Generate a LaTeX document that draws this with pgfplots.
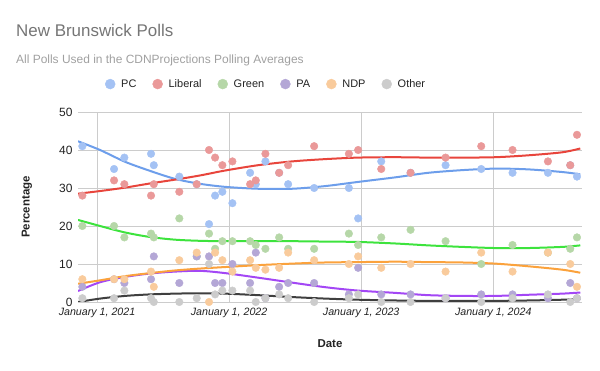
\documentclass[border=0pt]{standalone}
\usepackage{pgfplots}
\pgfplotsset{compat=1.18}
\usepackage{pgfplotstable}
\usepackage{fontspec}
\setmainfont{Liberation Sans}

\definecolor{pcdot}{HTML}{A4C2F4}
\definecolor{libdot}{HTML}{EA9999}
\definecolor{grndot}{HTML}{B6D7A8}
\definecolor{padot}{HTML}{B4A7D6}
\definecolor{ndpdot}{HTML}{F9CB9C}
\definecolor{othdot}{HTML}{CCCCCC}
\definecolor{pcline}{HTML}{6D9EEB}
\definecolor{libline}{HTML}{E8453C}
\definecolor{grnline}{HTML}{3DE33D}
\definecolor{paline}{HTML}{A347F5}
\definecolor{ndpline}{HTML}{FBA23C}
\definecolor{othline}{HTML}{3F3F3F}
\definecolor{gridc}{HTML}{CCCCCC}
\definecolor{basec}{HTML}{333333}
\definecolor{tickc}{HTML}{222222}
\definecolor{titlec}{HTML}{757575}
\definecolor{subc}{HTML}{A0A0A0}

\pgfplotstableread{
x pc lib grn pa ndp oth
2020.889 41 28 20 4 6 1
2021.129 35 32 20 6 6 1
2021.207 38 31 17 5 6 3
2021.409 39 28 18 6 8 1
2021.430 36 31 17 12 4 0
2021.623 33 29 22 5 11 0
2021.755 31 31 12 12 13 1
2021.848 20.5 40 18 12 0 10
2021.894 28 38 14 5 13 2
2021.949 29 36 16 5 11 3
2022.025 26 37 16 10 8 3
2022.159 34 31 16 5 11 3
2022.202 31 32 15 13 9 0
2022.275 37 39 14 1 8.5 1
2022.379 34 34 17 4 9 2
2022.447 31 36 14 5 13 1
2022.644 30 41 14 5 11 0
2022.907 30 39 18 2 10 1
2022.977 22 40 15 9 12 2
2023.152 37 35 17 2 9 0
2023.374 34 34 19 2 10 0
2023.639 36 38 16 1 8 1
2023.909 35 41 10 2 13 0
2024.146 34 40 15 2 8 1
2024.414 34 37 13 1 13 2
2024.583 36 36 14 5 10 0
2024.634 33 44 17 1 4 1
}\polls

\pgfplotstableread{
x pc lib grn pa ndp oth
2020.856 42.3 28.5 21.6 2.9 4.8 0.0
2021.023 40.0 29.2 20.0 5.2 5.7 0.9
2021.212 36.9 30.1 18.3 6.6 6.8 1.6
2021.402 34.5 31.2 17.1 7.5 7.6 2.0
2021.591 32.4 32.2 16.4 8.0 8.3 2.2
2021.780 31.1 33.3 16.1 8.2 8.8 2.3
2021.970 30.3 34.6 16.0 7.6 9.2 2.2
2022.220 29.8 36.0 16.0 6.4 9.7 1.8
2022.477 29.8 37.0 16.0 5.1 10.1 1.3
2022.727 30.5 37.6 15.9 3.9 10.4 0.9
2022.977 31.6 38.0 15.8 3.0 10.5 0.6
2023.258 32.8 38.1 15.4 2.4 10.6 0.4
2023.508 34.0 38.0 14.9 1.8 10.5 0.3
2023.765 34.7 38.0 14.5 1.6 10.4 0.3
2024.015 35.1 38.1 14.2 1.6 10.1 0.3
2024.265 34.9 38.6 14.2 1.9 9.4 0.4
2024.523 34.2 39.4 14.5 2.2 8.5 0.6
2024.659 33.6 40.4 14.9 2.5 7.7 0.8
}\trends

\pgfplotsset{
  dots/.style={only marks, mark=*, mark size=3.8bp, color=#1,
    legend image code/.code={\fill[#1] (0bp,0bp) circle (5bp);
      \path[draw=none, fill=none] (-5bp,-5bp) rectangle (11bp,5bp);}},
  trend/.style={no marks, smooth, line width=2bp, color=#1, forget plot},
}
\newcommand{\legsp}{\rule{16bp}{0pt}}

\begin{document}
\begin{tikzpicture}
\path[draw=none, fill=none] (0,0) rectangle (600bp,371bp);
\begin{axis}[
  at={(78bp,69bp)}, anchor=south west,
  scale only axis, width=504bp, height=190bp,
  xmin=2020.856, xmax=2024.672, ymin=0, ymax=50,
  xtick={2021,2022,2023,2024},
  xticklabels={{January 1, 2021},{January 1, 2022},{January 1, 2023},{January 1, 2024}},
  ytick={10,20,30,40,50},
  extra y ticks={0},
  extra y tick style={grid style={draw=basec, line width=1.2bp}},
  grid=major,
  major grid style={draw=gridc, line width=0.8bp},
  axis line style={draw=none},
  tick style={draw=none},
  x tick label style={font=\fontsize{10.7}{13}\selectfont\itshape, text=tickc, yshift=-3bp},
  y tick label style={font=\fontsize{12}{14}\selectfont, text=tickc, xshift=-2bp},
  /pgf/number format/assume math mode=true,
  legend columns=-1,
  legend cell align=left,
  legend style={at={(0.0536,1.147)}, anchor=west, draw=none, fill=none,
    inner sep=0pt, outer sep=0pt, column sep=0pt,
    nodes={inner sep=0pt, outer sep=0pt},
    font=\fontsize{11}{13}\selectfont, text=tickc},
]
\addplot[dots=pcdot] table[x=x,y=pc]{\polls};
\addlegendentry{PC\legsp}
\addplot[dots=libdot] table[x=x,y=lib]{\polls};
\addlegendentry{Liberal\legsp}
\addplot[dots=grndot] table[x=x,y=grn]{\polls};
\addlegendentry{Green\legsp}
\addplot[dots=padot] table[x=x,y=pa]{\polls};
\addlegendentry{PA\legsp}
\addplot[dots=ndpdot] table[x=x,y=ndp]{\polls};
\addlegendentry{NDP\legsp}
\addplot[dots=othdot] table[x=x,y=oth]{\polls};
\addlegendentry{Other}

\addplot[trend=pcline] table[x=x,y=pc]{\trends};
\addplot[trend=libline] table[x=x,y=lib]{\trends};
\addplot[trend=grnline] table[x=x,y=grn]{\trends};
\addplot[trend=paline] table[x=x,y=pa]{\trends};
\addplot[trend=ndpline] table[x=x,y=ndp]{\trends};
\addplot[trend=othline] table[x=x,y=oth]{\trends};
\end{axis}
\node[anchor=base west, inner sep=0pt, font=\fontsize{17}{20}\selectfont, text=titlec] at (16bp,334bp) {New Brunswick Polls};
\node[anchor=base west, inner sep=0pt, font=\fontsize{12}{14}\selectfont, text=subc] at (16bp,307.7bp) {All Polls Used in the CDNProjections Polling Averages};
\node[rotate=90, font=\bfseries\fontsize{11.5}{14}\selectfont, text=tickc] at (27bp,164bp) {Percentage};
\node[font=\bfseries\fontsize{11.5}{14}\selectfont, text=tickc] at (330bp,27bp) {Date};
\end{tikzpicture}
\end{document}
